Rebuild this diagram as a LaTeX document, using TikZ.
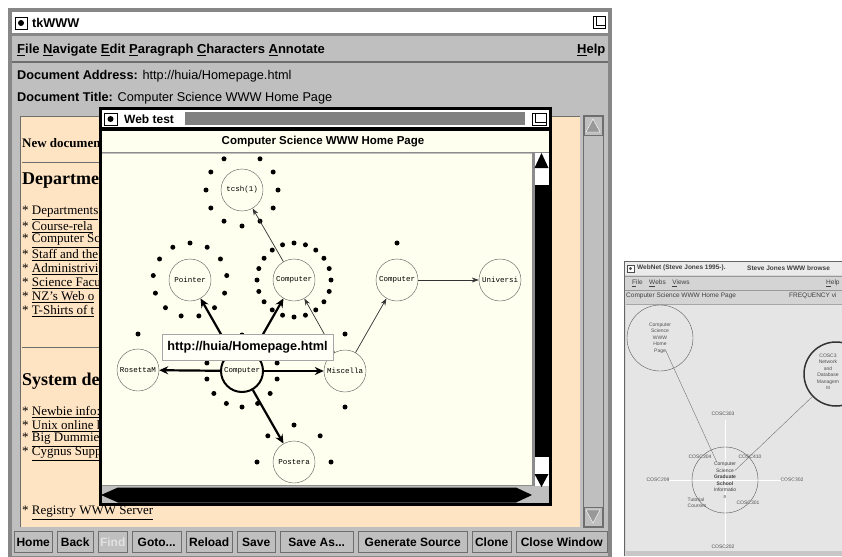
\documentclass[tikz,border=0pt]{standalone}
\usepackage{fontspec}
\setmainfont{Liberation Serif}
\setsansfont{Liberation Sans}
\setmonofont{Liberation Mono}
\definecolor{tkgray}{RGB}{191,191,191}
\definecolor{tkdark}{RGB}{110,110,110}
\definecolor{tkhatch}{RGB}{135,135,135}
\definecolor{tkpeach}{RGB}{255,228,196}
\definecolor{tkivory}{RGB}{255,255,240}
\definecolor{wnface}{RGB}{212,212,212}
\definecolor{wncanvas}{RGB}{229,229,229}
\definecolor{wntext}{RGB}{80,80,80}
\usetikzlibrary{arrows.meta,positioning,calc}
\newcommand{\threedots}{...}

\begin{document}
\begin{tikzpicture}[x=1pt, y=-1pt,
    uitext/.style={anchor=west, inner sep=0pt, font=\sffamily\bfseries\fontsize{12.7}{14}\selectfont},
    doctext/.style={anchor=west, inner sep=0pt, font=\fontsize{13}{15}\selectfont},
    dochead/.style={anchor=west, inner sep=0pt, font=\bfseries\fontsize{18}{20}\selectfont},
    tkbutton/.style={rectangle, fill=tkgray, draw=tkdark, anchor=west, inner sep=0pt,
                     minimum height=21pt, font=\sffamily\bfseries\fontsize{12}{14}\selectfont},
    pagenode/.style={circle, draw=black!65, fill=tkivory, minimum size=42pt, inner sep=0pt,
                     font=\ttfamily\fontsize{7.5}{8}\selectfont},
    homenode/.style={pagenode, draw=black, line width=2pt},
    thinlink/.style={-{Stealth[length=7pt,width=5pt]}, line width=0.7pt, black!80},
    boldlink/.style={-{Stealth[length=9pt,width=8pt]}, line width=2.2pt},
    wnpage/.style={circle, draw=black!65, minimum size=66pt, inner sep=0pt, align=center,
                   text=wntext, font=\sffamily\fontsize{5}{6.5}\selectfont},
    wnlabel/.style={inner sep=0pt, text=wntext, font=\sffamily\fontsize{5}{6}\selectfont},
    wntitle/.style={anchor=west, inner sep=0pt, text=black!75, font=\sffamily\bfseries\fontsize{6.5}{8}\selectfont},
    >=stealth
  ]
    \useasboundingbox (0,0) rectangle (842,556);
    \clip (0,0) rectangle (842,556);
    \fill[white] (0,0) rectangle (842,556);

    % tkWWW window
    \fill[tkgray] (8,8) rectangle (612,560);
    \draw[tkhatch, line width=4pt] (10,10) rectangle (610,558);
    \fill[white] (12,12) rectangle (608,33);
    \draw[tkhatch, line width=3pt] (12,35) -- (608,35);
    \draw[tkdark, line width=1.5pt] (12,62) -- (608,62);
    \draw[line width=0.8pt, fill=white] (15,17) rectangle (27,29);
    \fill (21,23) circle (3pt);
    \draw[line width=0.8pt] (593,16) rectangle (605,28) (596,16) -- (596,25) -- (605,25);
    \node[uitext] (tktitle) at (32,23) {tkWWW};
    \node[uitext, font=\sffamily\bfseries\fontsize{13}{15}\selectfont] (menubar) at (17,50)
      {\underline{F}ile \underline{N}avigate \underline{E}dit \underline{P}aragraph \underline{C}haracters \underline{A}nnotate};
    \node[uitext, font=\sffamily\bfseries\fontsize{13}{15}\selectfont] (helpmenu) at (577,50) {\underline{H}elp};
    \node[uitext] (docaddr) at (17,76) {Document Address: {\mdseries http://huia/Homepage.html}};
    \node[uitext] (doctitle) at (17,98) {Document Title: {\mdseries Computer Science WWW Home Page}};

    % document area
    \fill[tkpeach] (20,116) rectangle (580,527);
    \draw[tkdark] (20,527) -- (20,116) -- (580,116);
    \draw[tkdark] (583,115) rectangle (603,527);
    \draw[tkdark] (584,116) rectangle (602,135);
    \filldraw[fill=tkgray!80!black, draw=white] (593,119) -- (600,132) -- (586,132) -- cycle;
    \draw[tkdark] (584,507) rectangle (602,526);
    \filldraw[fill=tkgray!80!black, draw=white] (586,510) -- (600,510) -- (593,523) -- cycle;

    \node[doctext, font=\bfseries\fontsize{13}{15}\selectfont] (newdoc) at (22,143) {New documen};
    \draw[tkdark, line width=1pt] (22,163) -- (110,163);
    \node[dochead] (depthead) at (22,181) {Departme};
    \foreach \y/\t [count=\n] in {213/Departments, 227/Course-rela, 241/Computer Sc, 255/Staff and the,
        269/Administrivi, 283/Science Facu, 297/NZ's Web o, 311/T-Shirts of t}
      \node[doctext] (dept\n) at (22,\y) {* \underline{\t}};
    \draw[tkdark, line width=1pt] (22,347) -- (110,347);
    \node[dochead] (syshead) at (22,381) {System de};
    \foreach \y/\t [count=\n] in {412/Newbie info:, 426/Unix online h, 440/Big Dummie, 454/Cygnus Supp}
      \node[doctext] (sys\n) at (22,\y) {* \underline{\t}};
    \node[doctext] (registry) at (22,513) {* \underline{Registry WWW Server}};

    % buttons
    \foreach \l/\r/\lab [count=\n] in {14/52/Home, 57/93/Back, 132/181/Goto\threedots, 186/232/Reload,
        237/275/Save, 280/353/Save As\threedots, 358/467/Generate Source, 472/511/Clone, 516/607/Close Window}
      \node[tkbutton, minimum width={(\r-\l)*1pt}] (btn\n) at (\l,542) {\lab};
    \node[tkbutton, minimum width=29pt, text=white!55!tkgray] (btnfind) at (98,542) {Find};

    % Web test window
    \fill[tkgray] (100,108) rectangle (551,504);
    \fill[white] (102,110) rectangle (549,127);
    \fill[black!50] (185,112) rectangle (525,125);
    \draw[line width=0.8pt, fill=white] (104,113) rectangle (117,125);
    \fill (110.5,119) circle (3pt);
    \draw[line width=0.8pt] (532,113) rectangle (546,125) (535,113) -- (535,122) -- (546,122);
    \node[uitext, font=\sffamily\bfseries\fontsize{12}{14}\selectfont] (webtitle) at (124,119) {Web test};
    \fill[black] (101,127) rectangle (550,131);
    \fill[tkivory] (102,131) rectangle (549,152);
    \draw[black!45, line width=1pt] (102,152.5) -- (549,152.5);
    \node[font=\sffamily\bfseries\fontsize{11.5}{13}\selectfont] (canvashead) at (323,142) {Computer Science WWW Home Page};

    \begin{scope}
      \clip (102,154) rectangle (532,485);
      \fill[tkivory] (102,154) rectangle (532,485);
      % pages
      \node[pagenode] (tcsh) at (242,190) {tcsh(1)};
      \node[pagenode] (pointer) at (190,280) {Pointer};
      \node[pagenode] (comptop) at (294,280) {Computer};
      \node[pagenode] (compright) at (397,280) {Computer};
      \node[pagenode] (univ) at (500,280) {Universi};
      \node[pagenode] (rosetta) at (138,370) {RosettaM};
      \node[homenode] (home) at (242,371) {Computer};
      \node[pagenode] (misc) at (345,371) {Miscella};
      \node[pagenode] (postera) at (294,462) {Postera};
      % dot rings
      \foreach \i in {1,...,11} \fill ($(tcsh)+(270+\i*30:36)$) circle (2.5pt);
      \foreach \i in {0,...,12} \fill ($(pointer)+(270+\i*360/13:37)$) circle (2.5pt);
      \foreach \i in {0,...,19} \fill ($(comptop)+(270+\i*18:37)$) circle (2.5pt);
      \foreach \i in {0,...,13} \fill ($(home)+(270+\i*360/14:36)$) circle (2.5pt);
      \foreach \i in {0,...,7} \fill ($(postera)+(270+\i*45:37)$) circle (2.5pt);
      \fill (397,243) circle (2.5pt) (345,334) circle (2.5pt) (345,407) circle (2.5pt) (138,334) circle (2.5pt);
      % links
      \draw[thinlink] (comptop) -- (tcsh);
      \draw[thinlink] (misc) -- (comptop);
      \draw[thinlink] (misc) -- (compright);
      \draw[thinlink] (compright) -- (univ);
      \draw[boldlink] (home) -- (pointer);
      \draw[boldlink] (home) -- (comptop);
      \draw[boldlink] (home) -- (rosetta);
      \draw[boldlink] (home) -- (misc);
      \draw[boldlink] (home) -- (postera);
      \node[draw=black!35, fill=tkivory!50!white, line width=1pt, inner sep=0pt, minimum width=171pt,
            minimum height=26pt, font=\sffamily\bfseries\fontsize{12.7}{14}\selectfont] (urltip) at (247.5,347)
        {http://huia/Homepage.html};
    \end{scope}
    \draw[black!45, line width=1pt] (102,485.5) -- (532,485.5);

    % scrollbars
    \fill[black!45] (532,153) rectangle (534.5,486);
    \fill[white] (534.5,153) rectangle (548.5,486);
    \fill[black] (541.5,153) -- (548.5,168) -- (534.5,168) -- cycle;
    \fill[black] (534.5,185) rectangle (548.5,457);
    \fill[black] (534.5,474) -- (548.5,474) -- (541.5,487) -- cycle;
    \fill[black] (101,495) -- (118,487.5) -- (516,487.5) -- (532,495) -- (516,502.5) -- (118,502.5) -- cycle;
    \draw[black, line width=3pt] (100.5,108.5) rectangle (550.5,504);

    % WebNet window
    \fill[wnface] (624,261) rectangle (842,556);
    \draw[black!60] (624.5,556) -- (624.5,261.5) -- (842,261.5);
    \fill[black!8] (625,262) rectangle (842,275);
    \draw[black!70, fill=white, line width=0.5pt] (627,265) rectangle (634,272);
    \fill[black!70] (630.5,268.5) circle (1.6pt);
    \node[wntitle] (wnname) at (637,268) {WebNet (Steve Jones 1995-).};
    \node[wntitle] (wnsub) at (747,268) {Steve Jones WWW browse};
    \draw[black!40] (625,276) -- (842,276);
    \node[wntitle, font=\sffamily\fontsize{6.5}{8}\selectfont] (wnmenu) at (632,283)
      {\underline{F}ile\quad \underline{W}ebs\quad \underline{V}iews};
    \node[wntitle, font=\sffamily\fontsize{6.5}{8}\selectfont] (wnhelp) at (826,283) {\underline{H}elp};
    \draw[black!40] (625,290) -- (842,290);
    \node[wntitle, font=\sffamily\fontsize{6.5}{8}\selectfont] (wnhead) at (626,296) {Computer Science WWW Home Page};
    \node[wntitle, font=\sffamily\fontsize{6.5}{8}\selectfont] (wnfreq) at (789,296) {FREQUENCY vi};
    \fill[wncanvas] (626,304) rectangle (842,551);
    \draw[black!35] (626,304) -- (842,304);
    \fill[black!22] (626,551) rectangle (842,556);
    \draw[white, line width=0.8pt] (655,480) -- (800,480) (725,420) -- (725,545);

    \node[wnpage] (wnhome) at (660,338) {Computer\\Science\\WWW\\Home\\Page};
    \node[wnpage, draw=black!80, line width=1.5pt, minimum size=64pt] (wnnet) at (836,374) {};
    \node[wnlabel, align=center, font=\sffamily\fontsize{5}{6.5}\selectfont] (wnnettext) at (828,372)
      {COSC3\\Network\\and\\Database\\Managem\\nt};
    \node[wnpage, text=black!75] (wngrad) at (725,480) {Computer\\Science\\\textbf{Graduate}\\\textbf{School}\\Informatio\\n};
    \draw[black!55, shorten <=13pt, shorten >=20pt] (wnhome.center) -- (wngrad.center);
    \draw[black!55, shorten >=14pt] (wnnet) -- (wngrad.center);

    \node[wnlabel] (c303) at (723,414) {COSC303};
    \node[wnlabel] (c304) at (700,457) {COSC304};
    \node[wnlabel] (c410) at (750,457) {COSC410};
    \node[wnlabel] (c208) at (658,480) {COSC208};
    \node[wnlabel] (c302) at (792,480) {COSC302};
    \node[wnlabel, align=left] (tutor) at (697,503) {Tutorial\\Courses};
    \node[wnlabel] (c301) at (748,503) {COSC301};
    \node[wnlabel] (c202) at (723,547) {COSC202};
  \end{tikzpicture}
\end{document}
